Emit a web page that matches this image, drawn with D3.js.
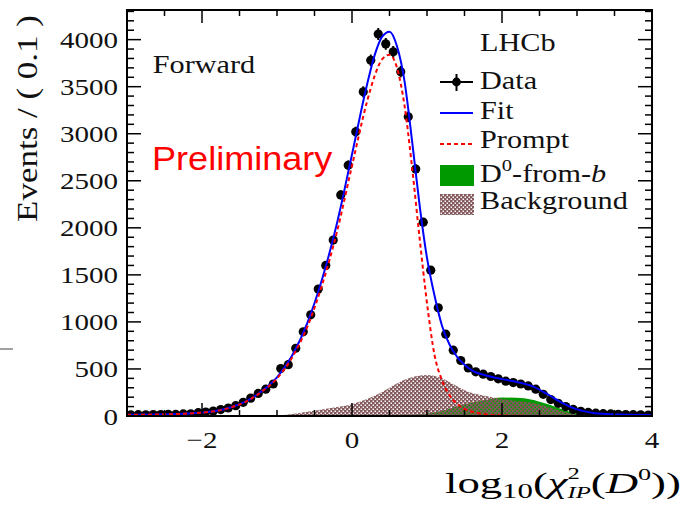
<!DOCTYPE html>
<html>
<head>
<meta charset="utf-8">
<script src="https://cdn.jsdelivr.net/npm/d3@7"></script>
<style>
  body { margin: 0; background: #fff; }
  svg { display: block; }
</style>
</head>
<body>
<svg id="chart" width="683" height="508"></svg>
<script>
// Histogram: 70 bins of 0.1 from -3 to 4
const binLow = -3, binWidth = 0.1;
const dataCounts = [
  12, 14, 13, 15, 16, 18, 17, 22, 24, 35,
  42, 52, 68, 85, 110, 145, 190, 240, 285, 340,
  505, 545, 720, 895, 1075, 1350, 1600, 1870, 2350, 2665,
  3020, 3445, 3780, 4060, 3955, 3870, 3660, 3180, 2625, 2060,
  1550, 1150, 870, 700, 590, 510, 470, 445, 420, 395,
  370, 355, 340, 320, 285, 230, 175, 135, 100, 70,
  50, 38, 30, 25, 22, 18, 16, 14, 12, 10
];

// Fit components sampled along x
const curveX   = [-3, -2.6, -2.2, -1.8, -1.6, -1.4, -1.2, -1.0, -0.8, -0.6, -0.4, -0.2, 0, 0.2, 0.3, 0.4, 0.5, 0.6, 0.7, 0.8, 0.9, 1.0, 1.1, 1.2, 1.3, 1.4, 1.5, 1.6, 1.8, 2.0, 2.2, 2.4, 2.6, 2.8, 3.0, 3.2, 3.4, 3.6, 4.0];
const fitY     = [12, 16, 26, 55, 95, 160, 265, 410, 640, 980, 1450, 2050, 2780, 3520, 3830, 4030, 4085, 3930, 3560, 2930, 2250, 1680, 1280, 960, 760, 630, 545, 485, 428, 392, 362, 318, 235, 140, 70, 35, 20, 15, 10];
const promptY  = [12, 16, 26, 55, 95, 158, 262, 400, 620, 940, 1390, 1960, 2660, 3340, 3610, 3790, 3840, 3700, 3300, 2650, 1900, 1200, 650, 380, 220, 130, 75, 45, 15, 5, 2, 1, 0, 0, 0, 0, 0, 0, 0];
const dFromBY  = [0, 0, 0, 0, 0, 0, 0, 0, 0, 0, 0, 0, 0, 0, 0, 1, 2, 3, 4, 6, 10, 18, 30, 48, 70, 95, 115, 135, 165, 188, 185, 165, 120, 65, 18, 4, 1, 0, 0];
const bkgY     = [0, 0, 0, 0, 0, 0, 0, 3, 20, 45, 70, 95, 125, 180, 215, 255, 300, 345, 385, 412, 430, 436, 425, 400, 360, 315, 275, 245, 210, 180, 160, 140, 100, 50, 15, 5, 2, 0, 0];

const yTicks = [0, 500, 1000, 1500, 2000, 2500, 3000, 3500, 4000];
const xTicks = [-2, 0, 2, 4];

const legendItems = ["Data", "Fit", "Prompt", "D0-from-b", "Background"];

const svg = d3.select("#chart");
const frameL = 127, frameR = 652, frameT = 10, frameB = 416;
const x = d3.scaleLinear().domain([-3, 4]).range([frameL, frameR]);
const y = d3.scaleLinear().domain([0, 4315]).range([frameB, frameT]);

const serif = "'Liberation Serif', 'Times New Roman', serif";
const stretchX = 1.21;

function stretch(sel, sx, sy) {
  const tx = +sel.attr("x"), ty = +sel.attr("y");
  sel.attr("x", 0).attr("y", 0)
    .attr("transform", `translate(${tx},${ty}) scale(${sx},${sy || 1})`);
  return sel;
}
function fitWidth(sel, w) {
  const len = sel.node().getBBox().width;
  return stretch(sel, w / len);
}

// background hatch pattern (brown with see-through dots)
const defs = svg.append("defs");
defs.append("pattern")
  .attr("id", "bkgPat").attr("width", 4).attr("height", 4)
  .attr("patternUnits", "userSpaceOnUse")
  .append("path")
  .attr("d", "M0,0h4v4h-4z M0.5,0.5h1.5v1.5h-1.5z M2.5,2.5h1.5v1.5h-1.5z")
  .attr("fill", "#85585b").attr("fill-rule", "evenodd");
defs.append("clipPath").attr("id", "frameClip")
  .append("rect").attr("x", frameL).attr("y", frameT)
  .attr("width", frameR - frameL).attr("height", frameB - frameT);

const plot = svg.append("g").attr("clip-path", "url(#frameClip)");

const area = d3.area().curve(d3.curveMonotoneX)
  .x((d, i) => x(curveX[i])).y0(y(0)).y1(d => y(d));
const line = d3.line().curve(d3.curveMonotoneX)
  .x((d, i) => x(curveX[i])).y(d => y(d));

plot.append("path").datum(dFromBY)
  .attr("d", area).attr("fill", "#009900")
  .attr("stroke", "#009900").attr("stroke-width", 1.5);
plot.append("path").datum(bkgY)
  .attr("d", area).attr("fill", "url(#bkgPat)");

// data points with error bars
const pts = plot.selectAll("g.pt").data(dataCounts).enter().append("g").attr("class", "pt");
const cx = (d, i) => x(binLow + binWidth * (i + 0.5));
pts.append("line")
  .attr("x1", (d, i) => x(binLow + binWidth * i)).attr("x2", (d, i) => x(binLow + binWidth * (i + 1)))
  .attr("y1", d => y(d)).attr("y2", d => y(d))
  .attr("stroke", "#000").attr("stroke-width", 2);
pts.append("line")
  .attr("x1", cx).attr("x2", cx)
  .attr("y1", d => y(d + Math.sqrt(d))).attr("y2", d => y(Math.max(0, d - Math.sqrt(d))))
  .attr("stroke", "#000").attr("stroke-width", 2);
pts.append("circle")
  .attr("cx", cx).attr("cy", d => y(d)).attr("r", 4.6).attr("fill", "#000");

plot.append("path").datum(fitY)
  .attr("d", line).attr("fill", "none")
  .attr("stroke", "#0000ff").attr("stroke-width", 2);
plot.append("path").datum(promptY)
  .attr("d", line).attr("fill", "none")
  .attr("stroke", "#ff0000").attr("stroke-width", 2).attr("stroke-dasharray", "4,3");

// frame + ticks (ROOT style, ticks inside on all four sides)
const axes = svg.append("g").attr("stroke", "#000");
axes.append("rect").attr("x", frameL).attr("y", frameT)
  .attr("width", frameR - frameL).attr("height", frameB - frameT)
  .attr("fill", "none").attr("stroke-width", 2);

const yMinor = d3.range(0, 4301, 100);
yMinor.forEach(v => {
  const len = v % 500 === 0 ? 14 : 7;
  axes.append("line").attr("x1", frameL).attr("x2", frameL + len)
    .attr("y1", y(v)).attr("y2", y(v)).attr("stroke-width", 1.5);
  axes.append("line").attr("x1", frameR).attr("x2", frameR - len)
    .attr("y1", y(v)).attr("y2", y(v)).attr("stroke-width", 1.5);
});
const xMinor = d3.range(-3, 4.01, 0.5);
xMinor.forEach(v => {
  const len = Math.abs(v % 2) < 1e-9 ? 13 : 6;
  axes.append("line").attr("x1", x(v)).attr("x2", x(v))
    .attr("y1", frameB).attr("y2", frameB - len).attr("stroke-width", 1.5);
  axes.append("line").attr("x1", x(v)).attr("x2", x(v))
    .attr("y1", frameT).attr("y2", frameT + len).attr("stroke-width", 1.5);
});

// tick labels
const fmt = d3.format("d");
yTicks.forEach(v => {
  const t = svg.append("text").attr("x", 118).attr("y", y(v) + 8.5)
    .attr("text-anchor", "end").attr("font-family", serif).attr("font-size", 24)
    .attr("fill", "#111").text(fmt(v));
  stretch(t, stretchX);
});
xTicks.forEach(v => {
  const t = svg.append("text").attr("x", x(v)).attr("y", 448)
    .attr("text-anchor", "middle").attr("font-family", serif).attr("font-size", 24)
    .attr("fill", "#111").text(d3.format("")(v));
  stretch(t, stretchX);
});

// y axis title
const yTitle = svg.append("text")
  .attr("text-anchor", "middle").attr("font-family", serif).attr("font-size", 27)
  .attr("fill", "#111").text("Events / ( 0.1 )");
const yLen = yTitle.node().getBBox().width;
yTitle.attr("transform", `translate(37,118.5) rotate(-90) scale(${207 / yLen},1.1)`);

// x axis title
const xTitle = svg.append("text").attr("x", 445).attr("y", 493)
  .attr("font-family", serif).attr("font-size", 29).attr("fill", "#000");
xTitle.append("tspan").text("log");
xTitle.append("tspan").attr("font-size", 20).attr("dy", 5).text("10");
xTitle.append("tspan").attr("dy", -5).text("(");
xTitle.append("tspan").attr("font-style", "italic").text("χ");
xTitle.append("tspan").attr("font-size", 16).attr("dy", -14).text("2");
xTitle.append("tspan").attr("font-size", 16).attr("font-style", "italic").attr("dx", -8).attr("dy", 19).text("IP");
xTitle.append("tspan").attr("dy", -5).text("(");
xTitle.append("tspan").attr("font-style", "italic").text("D");
xTitle.append("tspan").attr("font-size", 17).attr("dy", -13).text("0");
xTitle.append("tspan").attr("dy", 13).text("))");
fitWidth(xTitle, 236);

// labels inside the frame
stretch(svg.append("text").attr("x", 152.7).attr("y", 73)
  .attr("font-family", serif).attr("font-size", 25).attr("fill", "#111").text("Forward"), stretchX);
stretch(svg.append("text").attr("x", 480).attr("y", 51)
  .attr("font-family", serif).attr("font-size", 25).attr("fill", "#111").text("LHCb"), stretchX);
const prelim = svg.append("text").attr("x", 152).attr("y", 170)
  .attr("font-family", "'Liberation Sans', Arial, sans-serif").attr("font-size", 33)
  .attr("fill", "#ff0000").text("Preliminary");
fitWidth(prelim, 181);

// legend
const legY = [89, 119, 148, 182, 209];
const lg = svg.append("g");
// Data
lg.append("line").attr("x1", 440).attr("x2", 473).attr("y1", 82).attr("y2", 82).attr("stroke", "#000").attr("stroke-width", 2);
lg.append("line").attr("x1", 456.5).attr("x2", 456.5).attr("y1", 74).attr("y2", 91).attr("stroke", "#000").attr("stroke-width", 2);
lg.append("circle").attr("cx", 456.5).attr("cy", 82).attr("r", 4.4).attr("fill", "#000");
// Fit
lg.append("line").attr("x1", 440).attr("x2", 473).attr("y1", 113).attr("y2", 113).attr("stroke", "#0000ff").attr("stroke-width", 2);
// Prompt
lg.append("line").attr("x1", 440).attr("x2", 473).attr("y1", 144).attr("y2", 144).attr("stroke", "#ff0000").attr("stroke-width", 2).attr("stroke-dasharray", "4,3");
// D0-from-b
lg.append("rect").attr("x", 440).attr("y", 165).attr("width", 34).attr("height", 21).attr("fill", "#009900");
// Background
lg.append("rect").attr("x", 440).attr("y", 194).attr("width", 34).attr("height", 21).attr("fill", "url(#bkgPat)");

legendItems.forEach((name, i) => {
  const t = lg.append("text").attr("x", 480).attr("y", legY[i])
    .attr("font-family", serif).attr("font-size", 25).attr("fill", "#111");
  if (name === "D0-from-b") {
    t.append("tspan").text("D");
    t.append("tspan").attr("font-size", 17).attr("dy", -11).text("0");
    t.append("tspan").attr("dy", 11).text("-from-");
    t.append("tspan").attr("font-style", "italic").text("b");
  } else {
    t.text(name);
  }
  stretch(t, stretchX);
});

// stray dash at the left margin
svg.append("line").attr("x1", 0).attr("x2", 13).attr("y1", 349).attr("y2", 349)
  .attr("stroke", "#444").attr("stroke-width", 1);
</script>
</body>
</html>
